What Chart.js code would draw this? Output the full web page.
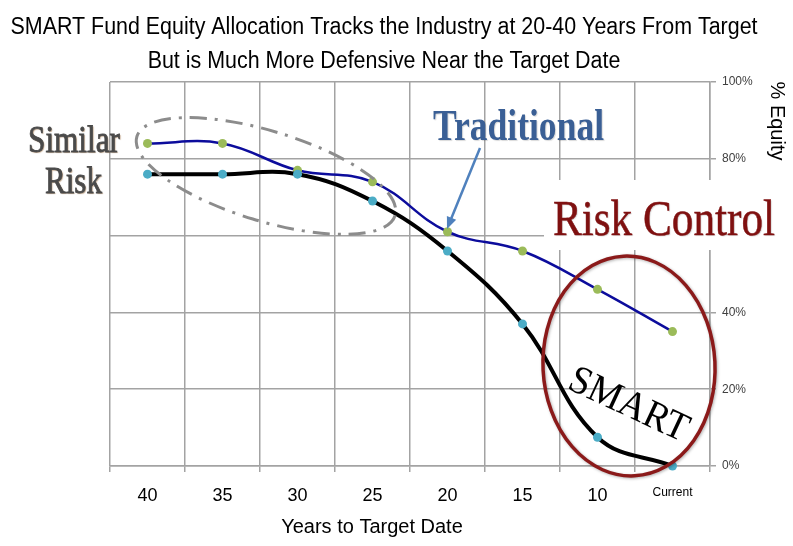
<!DOCTYPE html>
<html>
<head>
<meta charset="utf-8">
<script src="https://cdn.jsdelivr.net/npm/chart.js@4"></script>
<style>
  html, body { margin: 0; padding: 0; background: #fff; }
  #grafico_wrap { width: 793px; height: 546px; }
</style>
</head>
<body>
<div id="grafico_wrap"><canvas id="grafico_smart"></canvas></div>
<script>
// Dados do gráfico:
const categorias = ['40', '35', '30', '25', '20', '15', '10', 'Current'];
const dado_tradicional = [84, 84, 77, 74, 61, 56, 46, 35];
const dado_smart = [76, 76, 76, 69, 56, 37, 7.5, 0];
const ticks_y = [0, 20, 40, 60, 80, 100];
const titulo = ['SMART Fund Equity Allocation Tracks the Industry at 20-40 Years From Target',
                'But is Much More Defensive Near the Target Date'];

let azul_linha = '#0C0C9C';
let verde = '#9BBB59';
let ciano = '#4BACC6';
let grade = '#A3A3A3';
let vermelho = '#7F1010';

// Texto comprimido para caber numa largura
function textoAjustado(ctx, texto, x, y, largura, fonte, contorno) {
  ctx.save();
  ctx.font = fonte;
  const w = ctx.measureText(texto).width;
  ctx.translate(x, y);
  ctx.scale(largura / w, 1);
  ctx.textAlign = 'left';
  ctx.textBaseline = 'alphabetic';
  ctx.fillText(texto, 0, 0);
  if (contorno) {
    ctx.shadowColor = 'transparent';
    ctx.strokeStyle = ctx.fillStyle;
    ctx.lineWidth = contorno;
    ctx.strokeText(texto, 0, 0);
  }
  ctx.restore();
}

const anotacoes = {
  id: 'anotacoes',
  beforeDatasetsDraw(chart) {
    const ctx = chart.ctx;
    // caixa branca atrás de "Risk Control"
    ctx.save();
    ctx.fillStyle = '#fff';
    ctx.fillRect(544, 180, 249, 70);
    ctx.restore();
  },
  afterDatasetsDraw(chart) {
    const ctx = chart.ctx;
    ctx.save();
    // título (estreito)
    ctx.fillStyle = '#000';
    ctx.font = '23px "Liberation Sans"';
    const escala = 747 / ctx.measureText(titulo[0]).width;
    ctx.textBaseline = 'middle';
    ctx.textAlign = 'center';
    [28, 62].forEach((y, i) => {
      ctx.save();
      ctx.translate(384, y);
      ctx.scale(escala, 1);
      ctx.fillText(titulo[i], 0, 0);
      ctx.restore();
    });

    // elipse cinza tracejada
    ctx.strokeStyle = '#8C8C8C';
    ctx.lineWidth = 3;
    ctx.setLineDash([17, 8, 3, 8]);
    ctx.beginPath();
    ctx.ellipse(266, 176, 135, 45, 17 * Math.PI / 180, 0, Math.PI * 2);
    ctx.stroke();
    ctx.setLineDash([]);

    // elipse vermelha
    ctx.shadowColor = 'rgba(0,0,0,0.3)';
    ctx.shadowBlur = 3;
    ctx.shadowOffsetX = 1;
    ctx.shadowOffsetY = 1;
    ctx.strokeStyle = '#8B1A1A';
    ctx.lineWidth = 3.5;
    ctx.beginPath();
    ctx.ellipse(629, 366, 86, 110, -0.05, 0, Math.PI * 2);
    ctx.stroke();
    ctx.shadowColor = 'transparent';

    // seta do "Traditional"
    ctx.strokeStyle = '#4F81BD';
    ctx.fillStyle = '#4F81BD';
    ctx.lineWidth = 2.5;
    const x1 = 480, y1 = 148, x2 = 447, y2 = 229;
    const ang = Math.atan2(y2 - y1, x2 - x1);
    ctx.beginPath();
    ctx.moveTo(x1, y1);
    ctx.lineTo(x2 - 8 * Math.cos(ang), y2 - 8 * Math.sin(ang));
    ctx.stroke();
    ctx.beginPath();
    ctx.moveTo(x2, y2);
    ctx.lineTo(x2 - 12 * Math.cos(ang) + 5 * Math.sin(ang), y2 - 12 * Math.sin(ang) - 5 * Math.cos(ang));
    ctx.lineTo(x2 - 12 * Math.cos(ang) - 5 * Math.sin(ang), y2 - 12 * Math.sin(ang) + 5 * Math.cos(ang));
    ctx.closePath();
    ctx.fill();

    // textos
    ctx.shadowColor = 'rgba(140,90,40,0.5)';
    ctx.shadowBlur = 1;
    ctx.shadowOffsetX = 1;
    ctx.shadowOffsetY = 1;
    ctx.fillStyle = '#4A4A4A';
    textoAjustado(ctx, 'Similar', 28, 152, 92, '37px "Liberation Serif"', 0.8);
    textoAjustado(ctx, 'Risk', 45, 193, 57, '37px "Liberation Serif"', 0.8);
    ctx.shadowColor = 'rgba(0,0,0,0.15)';
    ctx.fillStyle = '#3A5F95';
    textoAjustado(ctx, 'Traditional', 433, 140, 171, 'bold 44px "Liberation Serif"');
    ctx.fillStyle = vermelho;
    textoAjustado(ctx, 'Risk Control', 553, 235, 222, '50px "Liberation Serif"', 0.5);
    ctx.shadowColor = 'transparent';

    // SMART rotacionado
    ctx.save();
    ctx.translate(566, 388);
    ctx.rotate(25 * Math.PI / 180);
    ctx.fillStyle = '#000';
    textoAjustado(ctx, 'SMART', 0, 0, 128, '40px "Liberation Serif"');
    ctx.restore();

    // títulos dos eixos
    ctx.fillStyle = '#000';
    ctx.font = '20px "Liberation Sans"';
    ctx.textAlign = 'center';
    ctx.textBaseline = 'middle';
    ctx.fillText('Years to Target Date', 372, 527);
    ctx.save();
    ctx.translate(777, 121);
    ctx.rotate(Math.PI / 2);
    ctx.fillText('% Equity', 0, 0);
    ctx.restore();
    ctx.restore();
  }
};

const ctx_smart = document.getElementById('grafico_smart').getContext('2d');
const gfc_smart = new Chart(ctx_smart, {
  type: 'line',
  data: {
    labels: categorias,
    datasets: [{
      label: 'SMART',
      data: dado_smart,
      borderColor: '#000',
      borderWidth: 4,
      pointBackgroundColor: ciano,
      pointBorderWidth: 0,
      pointRadius: 4.5,
      tension: 0.4,
      clip: false,
      order: 0
    }, {
      label: 'Traditional',
      data: dado_tradicional,
      borderColor: azul_linha,
      borderWidth: 2.5,
      pointBackgroundColor: verde,
      pointBorderWidth: 0,
      pointRadius: 4.5,
      tension: 0.4,
      clip: false,
      order: 1
    }]
  },
  options: {
    responsive: true,
    maintainAspectRatio: false,
    animation: false,
    layout: { padding: { left: 110, right: 0, top: 82, bottom: 0 } },
    scales: {
      x: {
        offset: true,
        grid: { offset: true, color: grade, lineWidth: 1.5, tickLength: 6 },
        border: { color: grade, width: 1.5 },
        ticks: {
          color: '#000',
          padding: 13,
          maxRotation: 0,
          font: (c) => (c.tick && c.tick.label === 'Current')
            ? { family: '"Liberation Sans"', size: 12 }
            : { family: '"Liberation Sans"', size: 18 }
        },
        afterFit: (s) => { s.height = 80; }
      },
      y: {
        position: 'right',
        min: 0,
        max: 100,
        afterBuildTicks: (s) => { s.ticks = ticks_y.map(v => ({ value: v })); },
        grid: { color: grade, lineWidth: 1.5, tickLength: 6 },
        border: { color: grade, width: 1.5 },
        ticks: {
          color: '#404040',
          padding: 6,
          font: { family: '"Liberation Sans"', size: 12 },
          callback: (v) => v + '%'
        },
        afterFit: (s) => { s.width = 83; }
      }
    },
    plugins: {
      legend: { display: false },
      tooltip: { enabled: false },
      title: { display: false }
    }
  },
  plugins: [anotacoes]
});
</script>
</body>
</html>
